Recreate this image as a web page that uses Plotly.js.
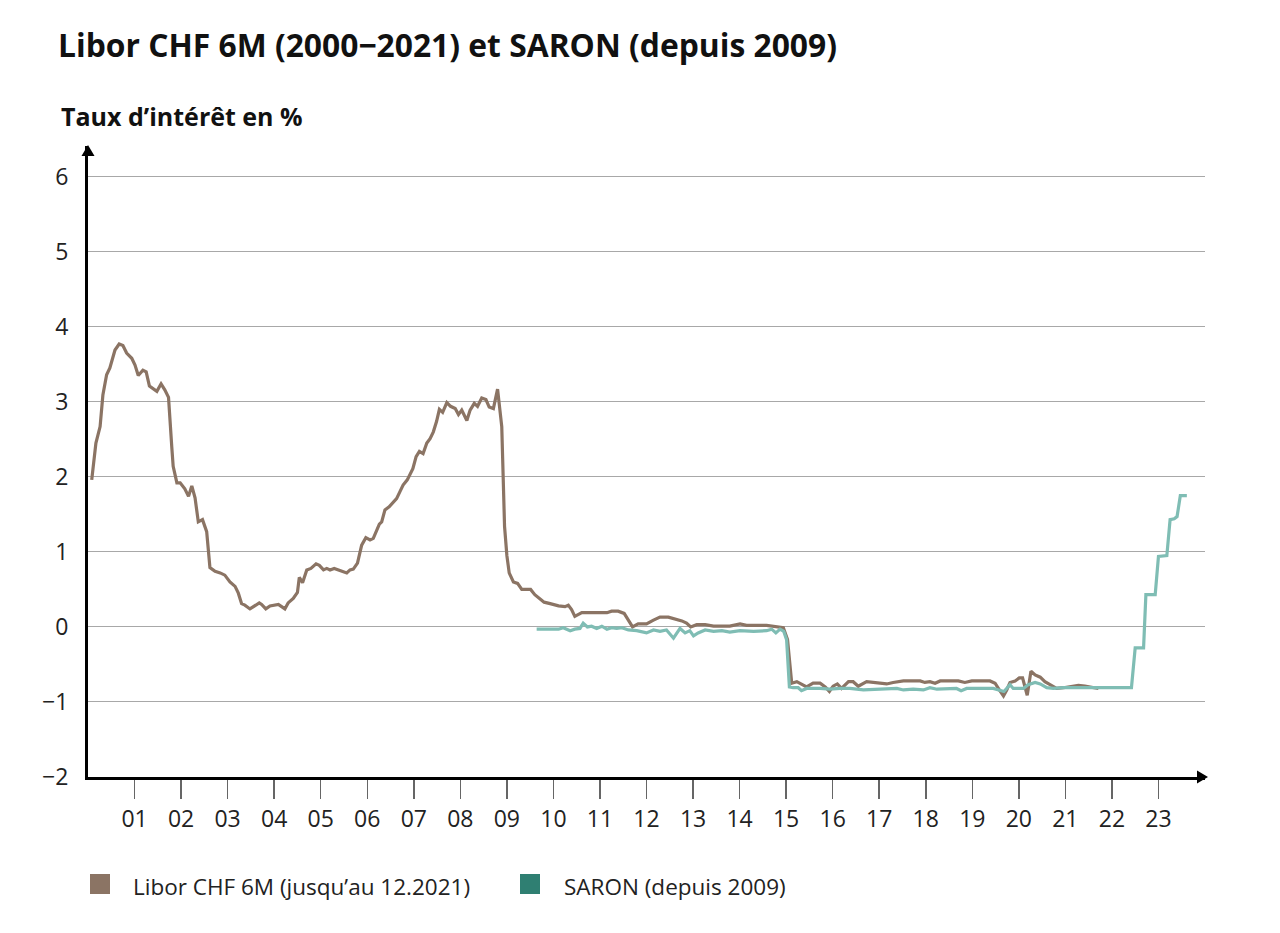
<!DOCTYPE html>
<html>
<head>
<meta charset="utf-8">
<script src="https://cdn.plot.ly/plotly-3.0.1.min.js"></script>
<style>html,body{margin:0;padding:0;background:#fff;}#chart{width:1280px;height:933px;}</style>
</head>
<body>
<div id="chart"></div>
<script>
// Libor CHF 6M (decimal years, %)
const liborYears = [2000.08,2000.17,2000.26,2000.32,2000.40,2000.47,2000.58,2000.67,2000.75,2000.83,2000.94,2001.01,2001.08,2001.18,2001.25,2001.32,2001.48,2001.57,2001.65,2001.73,2001.80,2001.83,2001.91,2001.98,2002.08,2002.16,2002.23,2002.30,2002.37,2002.46,2002.55,2002.62,2002.73,2002.84,2002.94,2003.05,2003.16,2003.23,2003.30,2003.37,2003.48,2003.59,2003.68,2003.73,2003.82,2003.91,2004.02,2004.09,2004.16,2004.23,2004.30,2004.41,2004.50,2004.54,2004.61,2004.70,2004.79,2004.90,2004.97,2005.06,2005.13,2005.20,2005.29,2005.38,2005.47,2005.56,2005.63,2005.70,2005.79,2005.84,2005.88,2005.97,2006.06,2006.13,2006.20,2006.26,2006.31,2006.38,2006.47,2006.56,2006.63,2006.70,2006.77,2006.86,2006.92,2006.98,2007.05,2007.12,2007.20,2007.28,2007.35,2007.42,2007.49,2007.55,2007.62,2007.71,2007.79,2007.89,2007.96,2008.03,2008.14,2008.21,2008.30,2008.37,2008.46,2008.55,2008.62,2008.71,2008.80,2008.89,2008.95,2009.00,2009.05,2009.14,2009.23,2009.32,2009.42,2009.51,2009.60,2009.71,2009.80,2009.93,2010.11,2010.25,2010.32,2010.39,2010.46,2010.61,2010.79,2011.00,2011.15,2011.25,2011.39,2011.52,2011.61,2011.70,2011.82,2012.00,2012.15,2012.29,2012.47,2012.61,2012.76,2012.86,2012.95,2013.08,2013.26,2013.44,2013.79,2014.01,2014.15,2014.58,2014.80,2014.94,2015.03,2015.12,2015.23,2015.34,2015.44,2015.58,2015.73,2015.84,2015.93,2016.01,2016.10,2016.19,2016.34,2016.44,2016.55,2016.73,2016.95,2017.16,2017.30,2017.52,2017.88,2017.98,2018.09,2018.20,2018.31,2018.70,2018.84,2018.99,2019.38,2019.49,2019.58,2019.67,2019.74,2019.81,2019.92,2020.01,2020.08,2020.18,2020.26,2020.35,2020.46,2020.56,2020.67,2020.81,2020.96,2021.14,2021.28,2021.42,2021.57,2021.71];
const liborValues = [1.96,2.45,2.67,3.09,3.36,3.45,3.69,3.77,3.75,3.65,3.58,3.49,3.35,3.42,3.40,3.21,3.14,3.24,3.16,3.06,2.40,2.14,1.92,1.92,1.84,1.74,1.88,1.72,1.40,1.43,1.27,0.79,0.74,0.72,0.69,0.60,0.54,0.45,0.31,0.29,0.24,0.29,0.32,0.30,0.24,0.28,0.29,0.30,0.27,0.24,0.32,0.38,0.46,0.66,0.59,0.76,0.78,0.84,0.82,0.76,0.78,0.76,0.78,0.76,0.74,0.72,0.76,0.77,0.85,0.98,1.09,1.19,1.16,1.18,1.29,1.37,1.40,1.56,1.60,1.67,1.71,1.80,1.89,1.96,2.03,2.11,2.27,2.34,2.31,2.45,2.51,2.60,2.74,2.90,2.86,2.99,2.94,2.91,2.83,2.89,2.75,2.89,2.98,2.94,3.05,3.03,2.93,2.91,3.17,2.67,1.34,0.95,0.72,0.60,0.58,0.50,0.50,0.50,0.43,0.37,0.33,0.31,0.28,0.27,0.29,0.23,0.14,0.19,0.19,0.19,0.19,0.21,0.21,0.18,0.09,0.00,0.04,0.04,0.09,0.13,0.13,0.11,0.08,0.05,0.00,0.03,0.03,0.01,0.01,0.04,0.02,0.02,0.00,-0.01,-0.17,-0.75,-0.73,-0.77,-0.80,-0.75,-0.75,-0.80,-0.86,-0.79,-0.76,-0.82,-0.73,-0.73,-0.79,-0.73,-0.75,-0.76,-0.74,-0.72,-0.72,-0.74,-0.73,-0.75,-0.72,-0.72,-0.74,-0.72,-0.72,-0.75,-0.84,-0.92,-0.84,-0.74,-0.72,-0.68,-0.68,-0.91,-0.59,-0.64,-0.67,-0.73,-0.77,-0.82,-0.81,-0.79,-0.78,-0.79,-0.81,-0.82];

// SARON (decimal years, %)
const saronYears = [2009.64,2010.11,2010.21,2010.36,2010.46,2010.57,2010.64,2010.73,2010.82,2010.93,2011.04,2011.15,2011.25,2011.36,2011.47,2011.61,2011.79,2012.00,2012.15,2012.29,2012.43,2012.58,2012.72,2012.83,2012.93,2013.01,2013.11,2013.26,2013.44,2013.62,2013.79,2014.01,2014.30,2014.58,2014.69,2014.78,2014.87,2014.95,2015.01,2015.07,2015.15,2015.26,2015.33,2015.44,2015.73,2015.94,2016.16,2016.37,2016.66,2016.95,2017.16,2017.38,2017.52,2017.73,2017.95,2018.09,2018.24,2018.66,2018.76,2018.88,2019.45,2019.60,2019.68,2019.81,2019.88,2020.10,2020.20,2020.35,2020.46,2020.60,2020.74,2020.96,2022.42,2022.50,2022.68,2022.73,2022.93,2023.00,2023.18,2023.25,2023.34,2023.40,2023.47,2023.61];
const saronValues = [-0.03,-0.03,-0.01,-0.05,-0.03,-0.02,0.05,0.00,0.01,-0.02,0.01,-0.03,-0.01,-0.02,-0.01,-0.04,-0.05,-0.08,-0.04,-0.06,-0.04,-0.15,-0.02,-0.08,-0.05,-0.12,-0.08,-0.04,-0.06,-0.05,-0.07,-0.05,-0.06,-0.05,-0.03,-0.08,-0.03,-0.06,-0.17,-0.80,-0.81,-0.81,-0.85,-0.82,-0.82,-0.83,-0.82,-0.82,-0.84,-0.83,-0.83,-0.82,-0.84,-0.83,-0.84,-0.81,-0.83,-0.82,-0.85,-0.82,-0.82,-0.84,-0.86,-0.77,-0.82,-0.82,-0.77,-0.74,-0.76,-0.81,-0.82,-0.81,-0.81,-0.28,-0.28,0.43,0.43,0.94,0.95,1.43,1.44,1.47,1.75,1.75];

const tickYears = [2001,2002,2003,2004,2005,2006,2007,2008,2009,2010,2011,2012,2013,2014,2015,2016,2017,2018,2019,2020,2021,2022,2023];
const tickLabels = ['01','02','03','04','05','06','07','08','09','10','11','12','13','14','15','16','17','18','19','20','21','22','23'];
const yTicks = [-2,-1,0,1,2,3,4,5,6];
const yTickLabels = ['−2','−1','0','1','2','3','4','5','6'];

const titleText = 'Libor CHF 6M (2000−2021) et SARON (depuis 2009)';
const yTitleText = 'Taux d’intérêt en %';
const liborName = 'Libor CHF 6M (jusqu’au 12.2021)';
const saronName = 'SARON (depuis 2009)';

const liborColor = '#8b7464';
const saronLine = '#7fbdb4';
const saronSquare = '#2f7f72';

// layout geometry (pixels)
const W = 1280, H = 933;
const L = 88, R = 1205, T = 146, B = 777;
const px = x => (x - L) / (R - L);
const py = y => (B - y) / (B - T);

const font = 'Open Sans, Noto Sans, Liberation Sans, sans-serif';

const traces = [
  {x: liborYears, y: liborValues, type: 'scatter', mode: 'lines', name: liborName,
   line: {color: liborColor, width: 3.2}, showlegend: false, hoverinfo: 'skip'},
  {x: saronYears, y: saronValues, type: 'scatter', mode: 'lines', name: saronName,
   line: {color: saronLine, width: 3.2}, showlegend: false, hoverinfo: 'skip'}
];

const shapes = [
  // y axis arrowhead
  {type: 'path', xref: 'paper', yref: 'paper',
   path: `M ${px(81.5)} ${py(156)} L ${px(88)} ${py(145)} L ${px(94.5)} ${py(156)} Z`,
   fillcolor: '#000', line: {width: 0}},
  // x axis arrowhead
  {type: 'path', xref: 'paper', yref: 'paper',
   path: `M ${px(1197)} ${py(770.5)} L ${px(1208)} ${py(777)} L ${px(1197)} ${py(783.5)} Z`,
   fillcolor: '#000', line: {width: 0}},
  // legend squares
  {type: 'rect', xref: 'paper', yref: 'paper', x0: px(90), x1: px(110), y0: py(874), y1: py(894),
   fillcolor: liborColor, line: {width: 0}},
  {type: 'rect', xref: 'paper', yref: 'paper', x0: px(520), x1: px(540), y0: py(874), y1: py(894),
   fillcolor: saronSquare, line: {width: 0}}
];

const annotations = [
  {text: '<b>' + yTitleText + '</b>', xref: 'paper', yref: 'paper', x: px(59), y: py(116),
   xanchor: 'left', yanchor: 'middle', showarrow: false, font: {family: font, size: 25, color: '#111'}},
  {text: liborName, xref: 'paper', yref: 'paper', x: px(131), y: py(886),
   xanchor: 'left', yanchor: 'middle', showarrow: false, font: {family: font, size: 22.5, color: '#222'}},
  {text: saronName, xref: 'paper', yref: 'paper', x: px(562), y: py(886),
   xanchor: 'left', yanchor: 'middle', showarrow: false, font: {family: font, size: 22.5, color: '#222'}}
];

const layout = {
  width: W, height: H,
  margin: {l: L, r: W - R, t: T, b: H - B, pad: 0},
  paper_bgcolor: '#fff', plot_bgcolor: '#fff',
  title: {text: '<b>' + titleText + '</b>', xref: 'container', yref: 'container',
          x: 58 / W, y: 1 - 46 / H, xanchor: 'left', yanchor: 'middle',
          font: {family: font, size: 31.8, color: '#111'}},
  showlegend: false,
  xaxis: {range: [2000, 2024], type: 'linear', tickmode: 'array', tickvals: tickYears, ticktext: tickLabels,
          ticks: 'outside', ticklen: 19, tickwidth: 1.5, tickcolor: '#666',
          showgrid: false, zeroline: false, showline: true, linecolor: '#000', linewidth: 3,
          tickfont: {family: font, size: 23, color: '#222'}, fixedrange: true},
  yaxis: {range: [-2, 6 + (176.7 - T) / 75.04], tickmode: 'array', tickvals: yTicks, ticktext: yTickLabels,
          ticks: '', showgrid: true, gridcolor: '#a8a8a8', gridwidth: 1, zeroline: false,
          showline: true, linecolor: '#000', linewidth: 3, ticklabelstandoff: 12,
          tickfont: {family: font, size: 23, color: '#222'}, fixedrange: true},
  shapes: shapes,
  annotations: annotations
};

Plotly.newPlot('chart', traces, layout, {displayModeBar: false, staticPlot: true});
</script>
</body>
</html>
